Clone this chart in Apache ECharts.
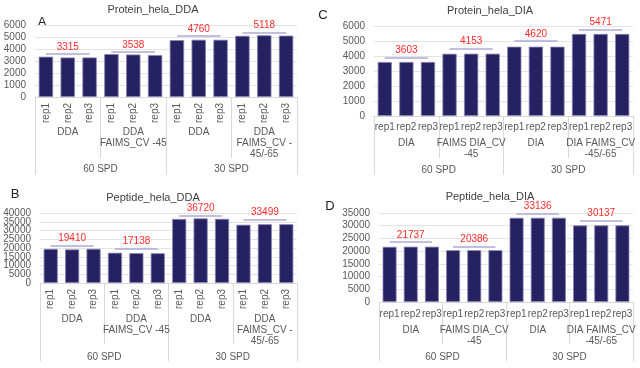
<!DOCTYPE html>
<html><head><meta charset="utf-8">
<script src="https://cdn.jsdelivr.net/npm/echarts@6/dist/echarts.min.js"></script>
<style>html,body{margin:0;padding:0;background:#fff}#c{width:640px;height:368px}</style>
</head><body><div id="c"></div>
<script>
// ---- data ----
const reps = ['rep1','rep2','rep3','rep1','rep2','rep3','rep1','rep2','rep3','rep1','rep2','rep3'];
const groupsDDA = ['DDA','DDA\nFAIMS_CV -45','DDA','DDA\nFAIMS_CV -\n45/-65'];
const groupsDIA = ['DIA','FAIMS DIA_CV\n-45','DIA','DIA FAIMS_CV\n-45/-65'];
const spdLevels = ['60 SPD','30 SPD'];
const titles = ['Protein_hela_DDA','Protein_hela_DIA','Peptide_hela_DDA','Peptide_hela_DIA'];
const panelLetters = ['A','C','B','D'];
// y tick labels of the Peptide_hela_DDA panel (crowded axis)
const peptideDDATicks = ['0','5000','10000','15000','20000','25000','30000','35000','40000'];

const proteinDDA = [3360,3290,3295, 3580,3540,3495, 4740,4770,4770, 5100,5140,5115];
const proteinDIA = [3600,3605,3604, 4150,4155,4154, 4620,4621,4619, 5470,5472,5471];
const peptideDDA = [19500,19200,19530, 17300,17100,17014, 36600,36900,36660, 33300,33600,33597];
const peptideDIA = [21700,21760,21751, 20380,20390,20388, 33130,33140,33138, 30130,30140,30141];

const proteinDDAMeans = [3315,3538,4760,5118];
const proteinDIAMeans = [3603,4153,4620,5471];
const peptideDDAMeans = [19410,17138,36720,33499];
const peptideDIAMeans = [21737,20386,33136,30137];

// height of the bracket line drawn above each group
const proteinDDABracket = [3580,3750,5083,5360];
const proteinDIABracket = [3913,4487,5000,5753];
const peptideDDABracket = [21540,19600,38460,36400];
const peptideDIABracket = [23600,21900,34880,32130];

// ---- chart ----
const FONT = '"Liberation Sans", Arial, sans-serif';
const LBL = '#595959';
const GRIDC = '#d9d9d9';

const panels = [
  {grid:{left:35,top:25,width:262,height:72}, vals:proteinDDA, groups:groupsDDA, means:proteinDDAMeans, br:proteinDDABracket, max:6000, int:1000, rot:90, repM:6, l1:61, m1:30, l2:78, m2:67},
  {grid:{left:374,top:26,width:259,height:90}, vals:proteinDIA, groups:groupsDIA, means:proteinDIAMeans, br:proteinDIABracket, max:6000, int:1000, rot:0, repM:6, l1:42, m1:22, l2:59, m2:49},
  {grid:{left:40,top:213,width:257,height:70}, vals:peptideDDA, groups:groupsDDA, means:peptideDDAMeans, br:peptideDDABracket, max:40000, int:5000, rot:90, repM:6, l1:61, m1:31, l2:78, m2:69, tickLabels:peptideDDATicks},
  {grid:{left:379,top:213,width:254,height:89}, vals:peptideDIA, groups:groupsDIA, means:peptideDIAMeans, br:peptideDIABracket, max:35000, int:5000, rot:0, repM:7, l1:42, m1:23, l2:59, m2:50}
];

const grid = [], xAxis = [], yAxis = [], series = [];
panels.forEach((p, gi) => {
  grid.push(Object.assign({containLabel:false}, p.grid));
  const base = xAxis.length;
  xAxis.push({gridIndex:gi, type:'category', data:reps, position:'bottom',
    axisLine:{show:true, lineStyle:{color:GRIDC, width:1}}, axisTick:{show:false},
    axisLabel:{interval:0, rotate:p.rot, margin:p.repM, fontSize:10, color:LBL, fontFamily:FONT}});
  xAxis.push({gridIndex:gi, type:'category', data:p.groups, position:'bottom',
    axisLine:{show:false}, axisTick:{show:true, length:p.l1, lineStyle:{color:GRIDC}},
    axisLabel:{interval:0, margin:p.m1, fontSize:10, lineHeight:11, color:LBL, fontFamily:FONT}});
  xAxis.push({gridIndex:gi, type:'category', data:spdLevels, position:'bottom',
    axisLine:{show:false}, axisTick:{show:true, length:p.l2, lineStyle:{color:GRIDC}},
    axisLabel:{interval:0, margin:p.m2, fontSize:10, color:LBL, fontFamily:FONT}});
  const yBase = yAxis.length;
  yAxis.push({gridIndex:gi, type:'value', min:0, max:p.max, interval:p.int,
    axisLine:{show:false}, axisTick:{show:false},
    splitLine:{lineStyle:{color:'#e4e4e4', width:1}},
    axisLabel:{show:!p.tickLabels, margin:9, fontSize:10, color:LBL, fontFamily:FONT,
      formatter:function(v){return String(v);}}});
  if (p.tickLabels) {
    yAxis.push({gridIndex:gi, type:'category', data:p.tickLabels, boundaryGap:false, position:'left',
      axisLine:{show:false}, axisTick:{show:false}, splitLine:{show:false},
      axisLabel:{interval:0, margin:9, fontSize:10, color:LBL, fontFamily:FONT}});
  }
  const ml = p.means.map((m, k) => [
    {coord:[k*3, p.br[k]], name:String(m)},
    {coord:[k*3+2, p.br[k]]}
  ]);
  series.push({type:'bar', xAxisIndex:base, yAxisIndex:yBase, data:p.vals,
    barCategoryGap:'34%',
    itemStyle:{color:'#262261', borderColor:'#8a87b6', borderWidth:0.8},
    markLine:{silent:true, symbol:['none','none'], animation:false,
      lineStyle:{type:'solid', color:'#aeaad4', width:1.5},
      label:{show:true, position:'insideMiddleTop', distance:2, formatter:'{b}',
        color:'#ff2a2a', fontSize:10, fontFamily:FONT},
      data:ml}});
});

const titlePos = [[153,10],[490,11],[153,198],[490,197]];
const letterPos = [[42,22],[323,15],[15,194],[330,206]];
const graphic = [];
titles.forEach((t, i) => {
  graphic.push({type:'text', x:titlePos[i][0], y:titlePos[i][1],
    style:{text:t, textAlign:'center', textVerticalAlign:'middle', fill:'#404040', font:'11px ' + FONT}});
  graphic.push({type:'text', x:letterPos[i][0], y:letterPos[i][1],
    style:{text:panelLetters[i], textAlign:'center', textVerticalAlign:'middle', fill:'#222', font:'13px ' + FONT}});
});

const chart = echarts.init(document.getElementById('c'), null, {renderer:'canvas'});
chart.setOption({animation:false, backgroundColor:'#fff', grid, xAxis, yAxis, series, graphic});
</script></body></html>
